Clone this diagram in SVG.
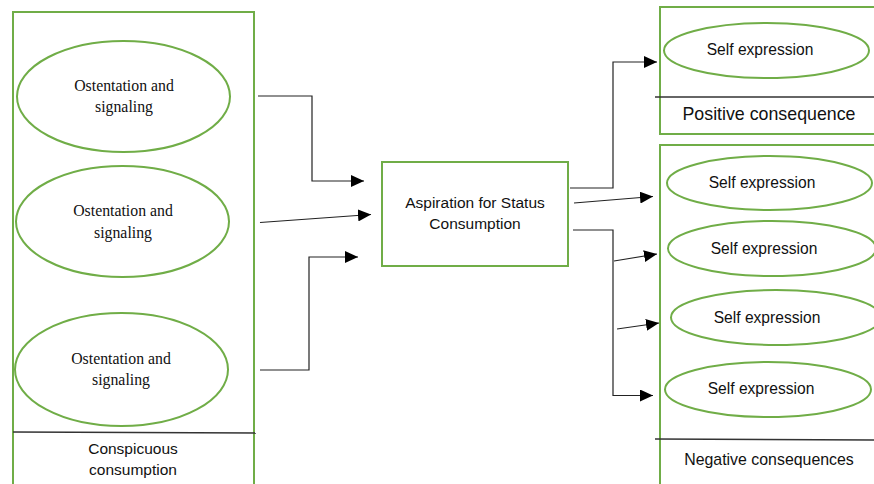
<svg xmlns="http://www.w3.org/2000/svg" width="874" height="484" viewBox="0 0 874 484">
  <defs>
    <marker id="arrow" markerUnits="userSpaceOnUse" markerWidth="14" markerHeight="12" refX="13" refY="6" orient="auto">
      <path d="M0,0 L13,6 L0,12 Z" fill="#000"/>
    </marker>
  </defs>
  <style>
    .box { fill: none; stroke: #70AD47; stroke-width: 2; }
    .oval { fill: #fff; stroke: #70AD47; stroke-width: 2; }
    .rule { stroke: #333; stroke-width: 1.3; }
    .conn { fill: none; stroke: #222; stroke-width: 1.2; }
    .serif { font-family: "Liberation Serif", "Times New Roman", serif; font-size: 15.8px; fill: #111; text-anchor: middle; }
    .sans { font-family: "Liberation Sans", Arial, sans-serif; fill: #111; text-anchor: middle; }
    .self { font-size: 15.6px; }
  </style>
  <rect width="874" height="484" fill="#fff"/>

  <!-- Conspicuous consumption group -->
  <g id="conspicuous">
    <rect class="box" x="13" y="12" width="241" height="490"/>
    <line class="rule" x1="13" y1="432" x2="256" y2="433"/>
    <text class="sans" font-size="15.5" x="133" y="454">Conspicuous</text>
    <text class="sans" font-size="15.5" x="133" y="475">consumption</text>
  </g>
  <g id="ostentation1">
    <ellipse class="oval" cx="123.5" cy="96.5" rx="106.5" ry="55.5"/>
    <text class="serif" x="124" y="90.5">Ostentation and</text>
    <text class="serif" x="124" y="112">signaling</text>
  </g>
  <g id="ostentation2">
    <ellipse class="oval" cx="122.5" cy="221.5" rx="106.5" ry="55.5"/>
    <text class="serif" x="123" y="216">Ostentation and</text>
    <text class="serif" x="123" y="237.5">signaling</text>
  </g>
  <g id="ostentation3">
    <ellipse class="oval" cx="121.5" cy="369.5" rx="106.5" ry="56.5"/>
    <text class="serif" x="121" y="363.5">Ostentation and</text>
    <text class="serif" x="121" y="385">signaling</text>
  </g>

  <!-- Central node -->
  <g id="aspiration">
    <rect class="box" x="382" y="162" width="186" height="104"/>
    <text class="sans" font-size="15.5" x="475" y="207.5">Aspiration for Status</text>
    <text class="sans" font-size="15.5" x="475" y="228.5">Consumption</text>
  </g>

  <!-- Positive consequence group -->
  <g id="positive">
    <rect class="box" x="660" y="7" width="230" height="127"/>
    <line class="rule" x1="655" y1="97" x2="874" y2="97"/>
    <text class="sans" font-size="17.8" x="769" y="119.5">Positive consequence</text>
  </g>
  <g id="positive-self">
    <ellipse class="oval" cx="766.5" cy="50.5" rx="102.5" ry="27.5"/>
    <text class="sans self" x="760" y="55">Self expression</text>
  </g>

  <!-- Negative consequences group -->
  <g id="negative">
    <rect class="box" x="660" y="145" width="230" height="360"/>
    <line class="rule" x1="655" y1="439" x2="874" y2="440"/>
    <text class="sans" font-size="15.9" x="769" y="464.5">Negative consequences</text>
  </g>
  <g id="negative-self1">
    <ellipse class="oval" cx="769.5" cy="183" rx="102.5" ry="27"/>
    <text class="sans self" x="762" y="187.5">Self expression</text>
  </g>
  <g id="negative-self2">
    <ellipse class="oval" cx="772" cy="248.5" rx="104" ry="27.5"/>
    <text class="sans self" x="764" y="253.5">Self expression</text>
  </g>
  <g id="negative-self3">
    <ellipse class="oval" cx="776" cy="317.5" rx="105" ry="27.5"/>
    <text class="sans self" x="767" y="322.5">Self expression</text>
  </g>
  <g id="negative-self4">
    <ellipse class="oval" cx="768" cy="389.5" rx="103" ry="27.5"/>
    <text class="sans self" x="761" y="394">Self expression</text>
  </g>

  <!-- Connectors -->
  <g id="connectors">
    <polyline class="conn" points="258,96 312,96 312,181 364,181" marker-end="url(#arrow)"/>
    <line class="conn" x1="260" y1="222.5" x2="371" y2="214.5" marker-end="url(#arrow)"/>
    <polyline class="conn" points="260,370 309,370 309,257 358,257" marker-end="url(#arrow)"/>

    <polyline class="conn" points="570,188 613,188 613,62 657,62" marker-end="url(#arrow)"/>
    <line class="conn" x1="574" y1="203" x2="653" y2="196.5" marker-end="url(#arrow)"/>
    <polyline class="conn" points="573,230 613,230 613,395.5 653,395.5" marker-end="url(#arrow)"/>
    <line class="conn" x1="614" y1="261" x2="657" y2="254" marker-end="url(#arrow)"/>
    <line class="conn" x1="617" y1="329" x2="659" y2="323" marker-end="url(#arrow)"/>
  </g>
</svg>
